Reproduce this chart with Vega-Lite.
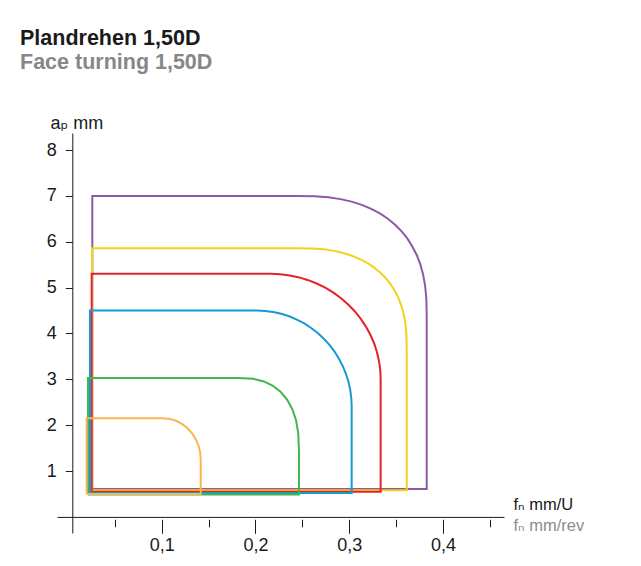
{
  "$schema": "https://vega.github.io/schema/vega-lite/v6.json",
  "width": 447,
  "height": 400,
  "autosize": {"type": "none"},
  "padding": {"left": 57, "top": 133, "right": 137, "bottom": 33},
  "background": "white",
  "config": {
    "view": {"stroke": null},
    "font": "Liberation Sans, Arial, DejaVu Sans, sans-serif"
  },
  "title": {
    "text": "Plandrehen 1,50D",
    "subtitle": "Face turning 1,50D",
    "anchor": "start",
    "frame": "group",
    "dx": -37,
    "offset": 41,
    "font": "Liberation Sans, Arial, sans-serif",
    "fontSize": 21.5,
    "fontWeight": "bold",
    "color": "#1a1a1a",
    "subtitleFont": "Liberation Sans, Arial, sans-serif",
    "subtitleFontSize": 21.5,
    "subtitleFontWeight": "bold",
    "subtitleColor": "#878787",
    "subtitlePadding": 2
  },
  "data": {
    "values": [
      {"s": "purple", "i": 0, "x": 0.026, "y": 0.61},
      {"s": "purple", "i": 1, "x": 0.026, "y": 7.0},
      {"s": "purple", "i": 2, "x": 0.2436, "y": 7.0},
      {"s": "purple", "i": 3, "x": 0.2633, "y": 6.992},
      {"s": "purple", "i": 4, "x": 0.2778, "y": 6.969},
      {"s": "purple", "i": 5, "x": 0.2907, "y": 6.929},
      {"s": "purple", "i": 6, "x": 0.3025, "y": 6.875},
      {"s": "purple", "i": 7, "x": 0.3134, "y": 6.803},
      {"s": "purple", "i": 8, "x": 0.3234, "y": 6.717},
      {"s": "purple", "i": 9, "x": 0.3327, "y": 6.617},
      {"s": "purple", "i": 10, "x": 0.3412, "y": 6.501},
      {"s": "purple", "i": 11, "x": 0.3489, "y": 6.37},
      {"s": "purple", "i": 12, "x": 0.3559, "y": 6.225},
      {"s": "purple", "i": 13, "x": 0.3621, "y": 6.067},
      {"s": "purple", "i": 14, "x": 0.3674, "y": 5.892},
      {"s": "purple", "i": 15, "x": 0.3721, "y": 5.705},
      {"s": "purple", "i": 16, "x": 0.3759, "y": 5.502},
      {"s": "purple", "i": 17, "x": 0.3788, "y": 5.282},
      {"s": "purple", "i": 18, "x": 0.3809, "y": 5.04},
      {"s": "purple", "i": 19, "x": 0.3822, "y": 4.769},
      {"s": "purple", "i": 20, "x": 0.3826, "y": 4.4},
      {"s": "purple", "i": 21, "x": 0.3826, "y": 0.61},
      {"s": "purple", "i": 22, "x": 0.026, "y": 0.61},

      {"s": "yellow", "i": 0, "x": 0.0257, "y": 0.58},
      {"s": "yellow", "i": 1, "x": 0.0257, "y": 5.86},
      {"s": "yellow", "i": 2, "x": 0.244, "y": 5.86},
      {"s": "yellow", "i": 3, "x": 0.2607, "y": 5.854},
      {"s": "yellow", "i": 4, "x": 0.2729, "y": 5.834},
      {"s": "yellow", "i": 5, "x": 0.2838, "y": 5.801},
      {"s": "yellow", "i": 6, "x": 0.2937, "y": 5.755},
      {"s": "yellow", "i": 7, "x": 0.3029, "y": 5.695},
      {"s": "yellow", "i": 8, "x": 0.3113, "y": 5.622},
      {"s": "yellow", "i": 9, "x": 0.3192, "y": 5.539},
      {"s": "yellow", "i": 10, "x": 0.3263, "y": 5.441},
      {"s": "yellow", "i": 11, "x": 0.3329, "y": 5.332},
      {"s": "yellow", "i": 12, "x": 0.3388, "y": 5.21},
      {"s": "yellow", "i": 13, "x": 0.344, "y": 5.077},
      {"s": "yellow", "i": 14, "x": 0.3485, "y": 4.931},
      {"s": "yellow", "i": 15, "x": 0.3524, "y": 4.775},
      {"s": "yellow", "i": 16, "x": 0.3557, "y": 4.604},
      {"s": "yellow", "i": 17, "x": 0.3581, "y": 4.42},
      {"s": "yellow", "i": 18, "x": 0.3599, "y": 4.216},
      {"s": "yellow", "i": 19, "x": 0.3609, "y": 3.99},
      {"s": "yellow", "i": 20, "x": 0.3613, "y": 3.68},
      {"s": "yellow", "i": 21, "x": 0.3613, "y": 0.58},
      {"s": "yellow", "i": 22, "x": 0.0257, "y": 0.58},

      {"s": "red", "i": 0, "x": 0.0253, "y": 0.55},
      {"s": "red", "i": 1, "x": 0.0253, "y": 5.3},
      {"s": "red", "i": 2, "x": 0.2162, "y": 5.3},
      {"s": "red", "i": 3, "x": 0.2264, "y": 5.291},
      {"s": "red", "i": 4, "x": 0.2366, "y": 5.266},
      {"s": "red", "i": 5, "x": 0.2466, "y": 5.222},
      {"s": "red", "i": 6, "x": 0.2563, "y": 5.162},
      {"s": "red", "i": 7, "x": 0.2658, "y": 5.084},
      {"s": "red", "i": 8, "x": 0.2749, "y": 4.992},
      {"s": "red", "i": 9, "x": 0.2835, "y": 4.884},
      {"s": "red", "i": 10, "x": 0.2916, "y": 4.762},
      {"s": "red", "i": 11, "x": 0.2991, "y": 4.626},
      {"s": "red", "i": 12, "x": 0.3061, "y": 4.479},
      {"s": "red", "i": 13, "x": 0.3123, "y": 4.319},
      {"s": "red", "i": 14, "x": 0.3178, "y": 4.15},
      {"s": "red", "i": 15, "x": 0.3225, "y": 3.972},
      {"s": "red", "i": 16, "x": 0.3265, "y": 3.787},
      {"s": "red", "i": 17, "x": 0.3295, "y": 3.595},
      {"s": "red", "i": 18, "x": 0.3317, "y": 3.4},
      {"s": "red", "i": 19, "x": 0.3331, "y": 3.201},
      {"s": "red", "i": 20, "x": 0.3335, "y": 3.0},
      {"s": "red", "i": 21, "x": 0.3335, "y": 0.55},
      {"s": "red", "i": 22, "x": 0.0253, "y": 0.55},

      {"s": "blue", "i": 0, "x": 0.0235, "y": 0.52},
      {"s": "blue", "i": 1, "x": 0.0235, "y": 4.5},
      {"s": "blue", "i": 2, "x": 0.2013, "y": 4.5},
      {"s": "blue", "i": 3, "x": 0.2101, "y": 4.492},
      {"s": "blue", "i": 4, "x": 0.2189, "y": 4.469},
      {"s": "blue", "i": 5, "x": 0.2275, "y": 4.428},
      {"s": "blue", "i": 6, "x": 0.2359, "y": 4.374},
      {"s": "blue", "i": 7, "x": 0.2441, "y": 4.303},
      {"s": "blue", "i": 8, "x": 0.252, "y": 4.219},
      {"s": "blue", "i": 9, "x": 0.2594, "y": 4.12},
      {"s": "blue", "i": 10, "x": 0.2664, "y": 4.009},
      {"s": "blue", "i": 11, "x": 0.2729, "y": 3.885},
      {"s": "blue", "i": 12, "x": 0.2789, "y": 3.75},
      {"s": "blue", "i": 13, "x": 0.2843, "y": 3.605},
      {"s": "blue", "i": 14, "x": 0.289, "y": 3.45},
      {"s": "blue", "i": 15, "x": 0.2931, "y": 3.288},
      {"s": "blue", "i": 16, "x": 0.2965, "y": 3.118},
      {"s": "blue", "i": 17, "x": 0.2992, "y": 2.944},
      {"s": "blue", "i": 18, "x": 0.3011, "y": 2.765},
      {"s": "blue", "i": 19, "x": 0.3022, "y": 2.583},
      {"s": "blue", "i": 20, "x": 0.3026, "y": 2.4},
      {"s": "blue", "i": 21, "x": 0.3026, "y": 0.52},
      {"s": "blue", "i": 22, "x": 0.0235, "y": 0.52},

      {"s": "green", "i": 0, "x": 0.0214, "y": 0.49},
      {"s": "green", "i": 1, "x": 0.0214, "y": 3.03},
      {"s": "green", "i": 2, "x": 0.1814, "y": 3.03},
      {"s": "green", "i": 3, "x": 0.1974, "y": 3.011},
      {"s": "green", "i": 4, "x": 0.209, "y": 2.953},
      {"s": "green", "i": 5, "x": 0.2187, "y": 2.856},
      {"s": "green", "i": 6, "x": 0.227, "y": 2.723},
      {"s": "green", "i": 7, "x": 0.2339, "y": 2.553},
      {"s": "green", "i": 8, "x": 0.2393, "y": 2.348},
      {"s": "green", "i": 9, "x": 0.2433, "y": 2.108},
      {"s": "green", "i": 10, "x": 0.2456, "y": 1.824},
      {"s": "green", "i": 11, "x": 0.2464, "y": 1.43},
      {"s": "green", "i": 12, "x": 0.2464, "y": 0.49},
      {"s": "green", "i": 13, "x": 0.0214, "y": 0.49},

      {"s": "orange", "i": 0, "x": 0.02, "y": 0.5},
      {"s": "orange", "i": 1, "x": 0.02, "y": 2.15},
      {"s": "orange", "i": 2, "x": 0.1016, "y": 2.15},
      {"s": "orange", "i": 3, "x": 0.1086, "y": 2.137},
      {"s": "orange", "i": 4, "x": 0.1153, "y": 2.096},
      {"s": "orange", "i": 5, "x": 0.1216, "y": 2.029},
      {"s": "orange", "i": 6, "x": 0.1273, "y": 1.939},
      {"s": "orange", "i": 7, "x": 0.1322, "y": 1.829},
      {"s": "orange", "i": 8, "x": 0.1362, "y": 1.7},
      {"s": "orange", "i": 9, "x": 0.1392, "y": 1.558},
      {"s": "orange", "i": 10, "x": 0.141, "y": 1.407},
      {"s": "orange", "i": 11, "x": 0.1416, "y": 1.25},
      {"s": "orange", "i": 12, "x": 0.1416, "y": 0.5},
      {"s": "orange", "i": 13, "x": 0.02, "y": 0.5}
    ]
  },
  "layer": [
    {
      "mark": {"type": "line", "strokeWidth": 2, "interpolate": "linear", "strokeJoin": "miter", "clip": false},
      "encoding": {
        "x": {
          "field": "x", "type": "quantitative",
          "scale": {"domain": [-0.01166, 0.46504], "nice": false, "zero": false},
          "axis": {
            "orient": "bottom", "offset": -16.1, "domain": true, "domainColor": "#1a1a1a", "domainWidth": 1,
            "ticks": false, "labels": false, "grid": false,
            "title": "fₙ mm/U", "titleX": 456, "titleY": -7.2, "titleAlign": "left", "titleBaseline": "alphabetic",
            "titleFontSize": 16.5, "titleFontWeight": "normal", "titleColor": "#1a1a1a"
          }
        },
        "y": {
          "field": "y", "type": "quantitative",
          "scale": {"domain": [-0.351, 8.371], "nice": false, "zero": false},
          "axis": {
            "orient": "left", "offset": -15.3, "values": [1, 2, 3, 4, 5, 6, 7, 8],
            "domainColor": "#1a1a1a", "domainWidth": 1, "tickColor": "#1a1a1a", "tickSize": 7, "tickWidth": 1,
            "labelFontSize": 18, "labelColor": "#1a1a1a", "labelPadding": 9, "grid": false,
            "title": "aₚ mm", "titleAngle": 0, "titleX": -22.3, "titleY": -4.7, "titleAlign": "left",
            "titleBaseline": "alphabetic", "titleFontSize": 18, "titleFontWeight": "normal", "titleColor": "#1a1a1a"
          }
        },
        "color": {
          "field": "s", "type": "nominal",
          "scale": {
            "domain": ["purple", "yellow", "red", "blue", "green", "orange"],
            "range": ["#8b5aa5", "#f7d117", "#e3232a", "#149ad6", "#43b649", "#fbb450"]
          },
          "legend": null
        },
        "order": {"field": "i", "type": "quantitative"}
      }
    },
    {
      "mark": {"type": "point", "opacity": 0},
      "encoding": {
        "x": {
          "field": "x", "type": "quantitative",
          "scale": {"domain": [-0.01166, 0.46504], "nice": false, "zero": false},
          "axis": {
            "orient": "bottom", "offset": -13.7, "domain": false, "values": [0.1, 0.2, 0.3, 0.4],
            "tickSize": 14, "tickColor": "#1a1a1a", "tickWidth": 1,
            "labelExpr": "replace(format(datum.value, '.1f'), '.', ',')",
            "labelFontSize": 18, "labelColor": "#1a1a1a", "labelPadding": 16.7, "labelBaseline": "alphabetic",
            "grid": false,
            "title": "fₙ mm/rev", "titleX": 456, "titleY": 11.3, "titleAlign": "left", "titleBaseline": "alphabetic",
            "titleFontSize": 16.5, "titleFontWeight": "normal", "titleColor": "#8c8c8c"
          }
        },
        "y": {"field": "y", "type": "quantitative", "axis": null}
      }
    },
    {
      "mark": {"type": "point", "opacity": 0},
      "encoding": {
        "x": {
          "field": "x", "type": "quantitative",
          "scale": {"domain": [-0.01166, 0.46504], "nice": false, "zero": false},
          "axis": {
            "orient": "bottom", "offset": -13.7, "domain": false, "values": [0.05, 0.15, 0.25, 0.35, 0.45],
            "tickSize": 7.5, "tickColor": "#1a1a1a", "tickWidth": 1, "labels": false, "grid": false, "title": null
          }
        },
        "y": {"field": "y", "type": "quantitative", "axis": null}
      }
    }
  ],
  "resolve": {"axis": {"x": "independent", "y": "independent"}}
}
